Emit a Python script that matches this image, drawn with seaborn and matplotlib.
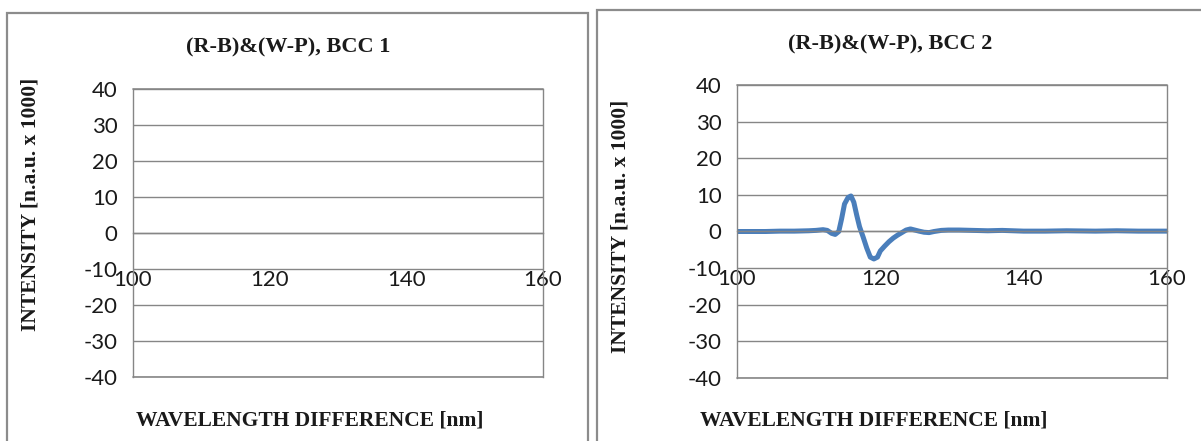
import numpy as np
import pandas as pd
import seaborn as sns
import matplotlib
matplotlib.use("Agg")
import matplotlib.pyplot as plt
from matplotlib.patches import Rectangle

# values
x_ticks = [100, 120, 140, 160]
y_ticks = [-40, -30, -20, -10, 0, 10, 20, 30, 40]
titles = ["(R-B)&(W-P), BCC 1", "(R-B)&(W-P), BCC 2"]
x_label = "WAVELENGTH DIFFERENCE [nm]"
y_label = "INTENSITY [n.a.u. x 1000]"

# BCC 1 has no visible data
bcc1_wavelength = []
bcc1_intensity = []

# BCC 2 curve (nm, n.a.u. x 1000)
bcc2_wavelength = [100, 102, 104, 106, 108, 110, 111, 112, 112.6, 113.2, 113.7, 114.2,
                   114.6, 115.0, 115.5, 115.9, 116.3, 116.7, 117.1, 117.6, 118.1, 118.6,
                   119.1, 119.6, 120.0, 120.6, 121.2, 121.8, 122.4, 123.0, 123.6, 124.2,
                   124.8, 125.4, 126.1, 126.8, 127.5, 128.5, 129.5, 131, 133, 135, 137,
                   140, 143, 146, 150, 153, 156, 160]
bcc2_intensity = [0.0, 0.0, 0.0, 0.1, 0.1, 0.2, 0.3, 0.5, 0.3, -0.5, -0.8, 0.0,
                  3.5, 7.5, 9.3, 9.7, 8.0, 4.5, 1.3, -1.5, -4.5, -7.0,
                  -7.5, -7.0, -5.3, -4.0, -2.8, -1.8, -1.0, -0.3, 0.4, 0.7,
                  0.4, 0.1, -0.2, -0.3, 0.0, 0.3, 0.4, 0.4, 0.3, 0.2, 0.3,
                  0.1, 0.1, 0.2, 0.1, 0.2, 0.1, 0.1]

W, H = 1201, 441
sns.set_style("white")
plt.rcParams['font.family'] = ['Lato', 'DejaVu Sans']
plt.rcParams['axes.unicode_minus'] = False

fig = plt.figure(figsize=(W / 100, H / 100), dpi=100)
grid_gray = '#868686'
line_blue = '#4a7ebb'
serif = ['Liberation Serif', 'DejaVu Serif']


def px_axes(left, top, right, bottom):
    return fig.add_axes([left / W, 1 - bottom / H, (right - left) / W, (bottom - top) / H])


def px_text(x, y, s, **kw):
    fig.text(x / W, 1 - y / H, s, **kw)


def style_axes(ax):
    ax.set_xlim(100, 160)
    ax.set_ylim(-40, 40)
    ax.set_xticks(x_ticks)
    ax.set_yticks(y_ticks)
    ax.yaxis.grid(True, color=grid_gray, lw=1)
    ax.xaxis.grid(False)
    ax.set_axisbelow(True)
    ax.axhline(-40, color=grid_gray, lw=1.2, clip_on=False, zorder=0.5)
    ax.axhline(40, color=grid_gray, lw=1.2, clip_on=False, zorder=0.5)
    ax.spines['top'].set_visible(False)
    ax.spines['bottom'].set_position(('data', 0))
    for s in ['left', 'bottom', 'right']:
        ax.spines[s].set_visible(True)
        ax.spines[s].set_color(grid_gray)
        ax.spines[s].set_linewidth(1)
    ax.tick_params(axis='y', direction='out', length=5, width=1, color=grid_gray,
                   labelsize=16, labelcolor='#1a1a1a', pad=6)
    ax.tick_params(axis='x', direction='out', length=5, width=1, color=grid_gray,
                   labelsize=16, labelcolor='#1a1a1a', pad=22)
    ax.set_xlabel('')
    ax.set_ylabel('')


# panel borders (Excel chart areas)
fig.patches.append(Rectangle((7 / W, -0.05), 581 / W, 1.05 - 13 / H, transform=fig.transFigure,
                             fill=False, edgecolor='#8c8c8c', lw=1.6))
fig.patches.append(Rectangle((597 / W, -0.05), 620 / W, 1.05 - 10 / H, transform=fig.transFigure,
                             fill=False, edgecolor='#8c8c8c', lw=1.6))

ax1 = px_axes(133, 89, 543, 377)
style_axes(ax1)
if len(bcc1_wavelength):
    sns.lineplot(x=bcc1_wavelength, y=bcc1_intensity, ax=ax1, color=line_blue, lw=3.2)

ax2 = px_axes(737, 85, 1167, 378)
df = pd.DataFrame({'wavelength': bcc2_wavelength, 'intensity': bcc2_intensity})
sns.lineplot(data=df, x='wavelength', y='intensity', ax=ax2, color=line_blue, lw=3.6,
             solid_capstyle='butt')
style_axes(ax2)

# titles and labels
label_kw = dict(fontweight='bold', family=serif, color='#1a1a1a')
px_text(288, 47, titles[0], ha='center', va='center', fontsize=16, **label_kw)
px_text(890, 44, titles[1], ha='center', va='center', fontsize=16, **label_kw)
px_text(310, 421, x_label, ha='center', va='center', fontsize=15.5, **label_kw)
px_text(874, 421, x_label, ha='center', va='center', fontsize=15.5, **label_kw)
px_text(31, 204, y_label, ha='center', va='center', rotation=90, fontsize=15.5, **label_kw)
px_text(620, 226, y_label, ha='center', va='center', rotation=90, fontsize=15.5, **label_kw)

fig.savefig('out.png', dpi=100)
